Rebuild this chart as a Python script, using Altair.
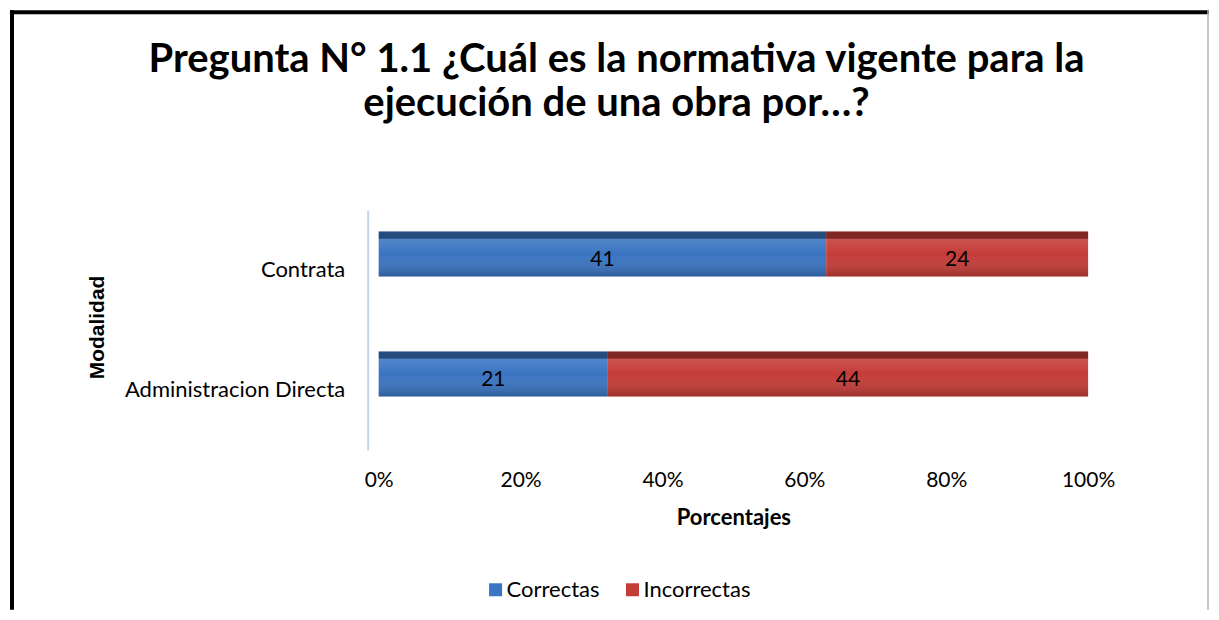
import altair as alt
import pandas as pd

# ---- data ----
modalidades = ["Contrata", "Contrata", "Administracion Directa", "Administracion Directa"]
respuestas = ["Correctas", "Incorrectas", "Correctas", "Incorrectas"]
valores = [41, 24, 21, 44]
orden = [0, 1, 0, 1]
categorias = ["Contrata", "Administracion Directa"]
series = ["Correctas", "Incorrectas"]
colores = ["#3a74c2", "#c43c38"]
ticks = [0, 0.2, 0.4, 0.6, 0.8, 1.0]
titulo = ["Pregunta N° 1.1 ¿Cuál es la normativa vigente para la",
          "ejecución de una obra por…?"]

df = pd.DataFrame({"Modalidad": modalidades, "Respuesta": respuestas,
                   "Cantidad": valores, "Orden": orden})
one = pd.DataFrame({"k": [0]})

FONT = "Lato"
BAR_SIZE = 45
BAR_OFF = -16

base = alt.Chart(df).transform_stack(
    stack="Cantidad", groupby=["Modalidad"], as_=["v0", "v1"],
    offset="normalize", sort=[alt.SortField("Orden", order="ascending")]
).transform_calculate(mid="(datum.v0 + datum.v1) / 2")

yenc = alt.Y("Modalidad:N", sort=categorias, title="Modalidad",
             axis=alt.Axis(offset=11, domainColor="#c5d4ea", domainWidth=2,
                           ticks=False, tickSize=0, labelPadding=23, labelLimit=500,
                           labelFont=FONT, labelFontSize=22, labelColor="black",
                           titleFont="Liberation Sans", titleFontSize=21,
                           titleFontWeight="bold", titleColor="black",
                           titleX=-270, titleY=117, titleAngle=270,
                           titleAlign="center", titleBaseline="middle", grid=False))

xenc = alt.X("v0:Q", scale=alt.Scale(domain=[0, 1]), title="Porcentajes",
             axis=alt.Axis(values=ticks, format=".0%", domain=False, ticks=False,
                           tickSize=0, grid=False, labelPadding=20, labelFlush=False,
                           labelFont=FONT, labelFontSize=21, labelColor="black",
                           titleFont=FONT, titleFontSize=22, titleFontWeight="bold",
                           titleColor="black", titlePadding=17))

bars = base.mark_bar(size=BAR_SIZE, yOffset=BAR_OFF).encode(
    x=xenc, x2="v1:Q", y=yenc,
    color=alt.Color("Respuesta:N", scale=alt.Scale(domain=series, range=colores),
                    legend=alt.Legend(title=None, orient="none", legendX=106, legendY=369,
                                      direction="horizontal", symbolType="square",
                                      symbolSize=169, symbolStrokeWidth=0,
                                      labelFont=FONT, labelFontSize=22, labelColor="black",
                                      labelOffset=0, columnPadding=22))
)

shade = base.mark_bar(
    size=BAR_SIZE, yOffset=BAR_OFF,
    fill=alt.Gradient(gradient="linear", x1=0, x2=0, y1=0, y2=1, stops=[
        alt.GradientStop(color="rgba(0,0,0,0.35)", offset=0),
        alt.GradientStop(color="rgba(0,0,0,0.35)", offset=0.15),
        alt.GradientStop(color="rgba(255,255,255,0.12)", offset=0.18),
        alt.GradientStop(color="rgba(255,255,255,0.0)", offset=0.5),
        alt.GradientStop(color="rgba(0,0,0,0.2)", offset=1),
    ])
).encode(x="v0:Q", x2="v1:Q", y=alt.Y("Modalidad:N", sort=categorias))

labels = base.mark_text(font=FONT, fontSize=21, color="black", dy=-10,
                        baseline="middle").encode(
    x="mid:Q", y=alt.Y("Modalidad:N", sort=categorias), text="Cantidad:Q")

# chart frame (decorative)
top_b = alt.Chart(one).mark_rule(color="black", strokeWidth=4).encode(
    x=alt.value(-369), x2=alt.value(831), y=alt.value(-198))
left_b = alt.Chart(one).mark_rule(color="black", strokeWidth=4).encode(
    x=alt.value(-367), y=alt.value(-200), y2=alt.value(400))
right_b = alt.Chart(one).mark_rule(color="#b5b5b5", strokeWidth=1.5).encode(
    x=alt.value(830), y=alt.value(-200), y2=alt.value(400))

t1 = alt.Chart(one).mark_text(text=titulo[0], font=FONT, fontSize=40, fontWeight="bold",
                              color="black", align="center", baseline="middle").encode(
    x=alt.value(238), y=alt.value(-150))
t2 = alt.Chart(one).mark_text(text=titulo[1], font=FONT, fontSize=40, fontWeight="bold",
                              color="black", align="center", baseline="middle").encode(
    x=alt.value(238), y=alt.value(-106))

chart = alt.layer(top_b, left_b, right_b, t1, t2, bars, shade, labels).properties(
    width=710, height=240, padding=0, background="white"
).configure_view(strokeWidth=0)

chart.save("out.html", embed_options={"renderer": "svg", "actions": False})
